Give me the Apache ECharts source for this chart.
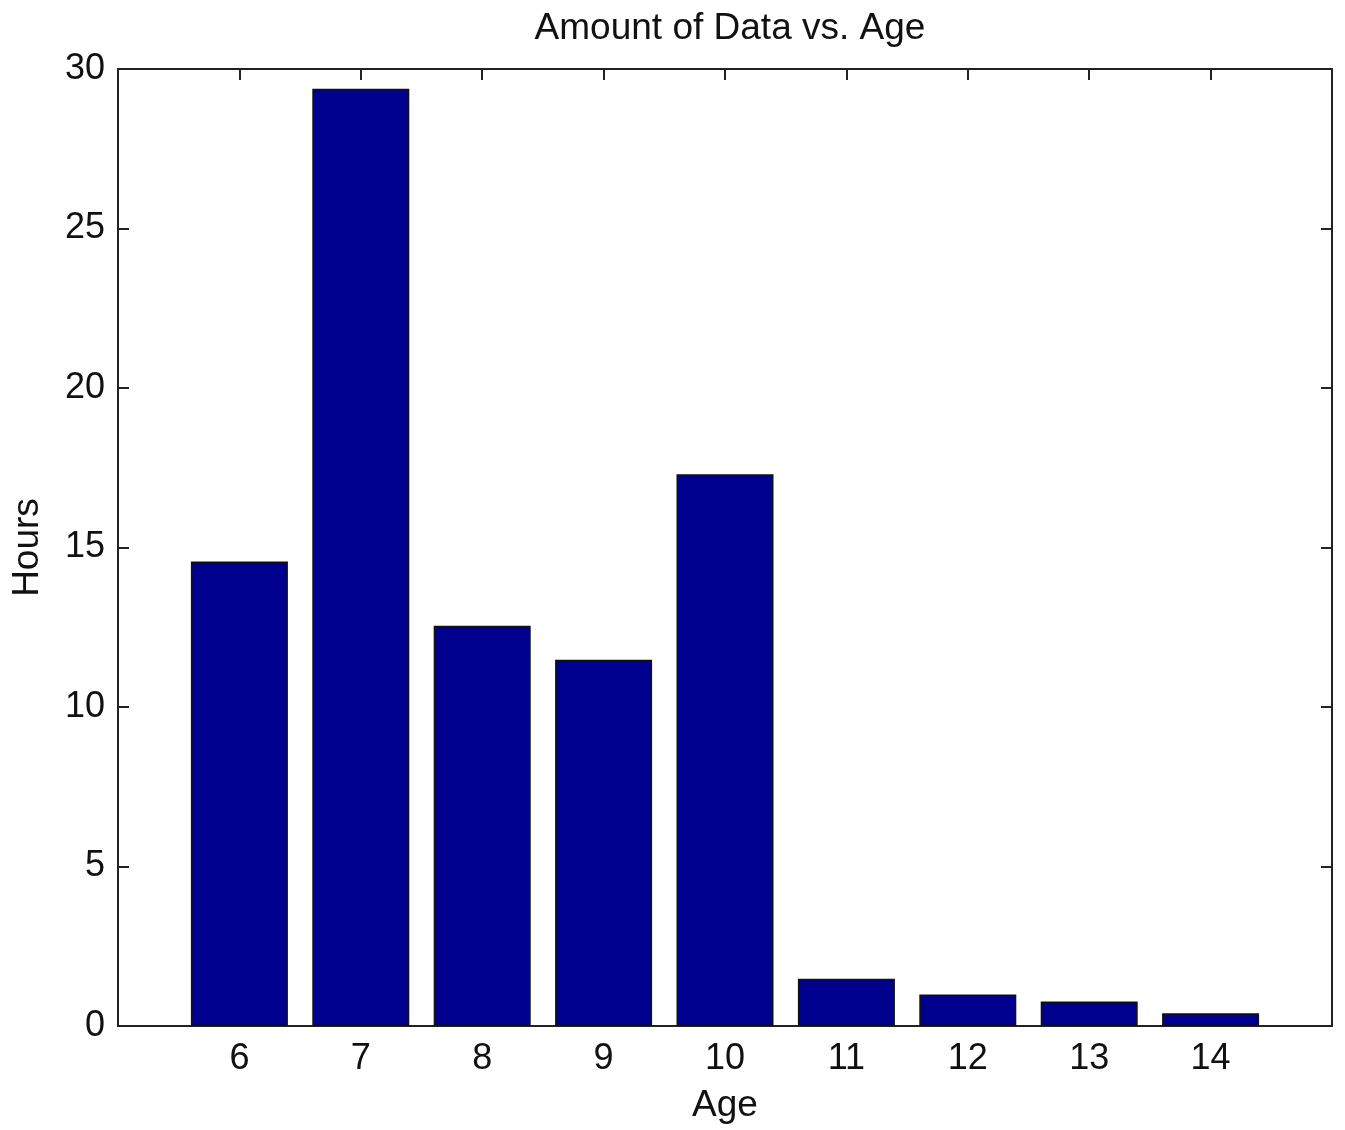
<!DOCTYPE html>
<html>
<head>
<meta charset="utf-8">
<script src="https://cdn.jsdelivr.net/npm/echarts@6/dist/echarts.min.js"></script>
<style>
html,body{margin:0;padding:0;background:#fff;}
#chart{width:1345px;height:1130px;}
</style>
</head>
<body>
<div id="chart"></div>
<script>
var ages = [6, 7, 8, 9, 10, 11, 12, 13, 14];
var hours = [14.56, 29.38, 12.55, 11.48, 17.3, 1.48, 0.99, 0.77, 0.40];
var yTicks = [0, 5, 10, 15, 20, 25, 30];

var font = 'Liberation Sans, Arial, Helvetica, sans-serif';
var axisColor = '#222';
var chart = echarts.init(document.getElementById('chart'));
var data = ages.map(function (a, i) { return [a, hours[i]]; });

function lineCfg() { return { show: true, onZero: false, lineStyle: { color: axisColor, width: 2 } }; }
function tickCfg() { return { show: true, inside: true, length: 11, lineStyle: { color: axisColor, width: 2 } }; }

chart.setOption({
  animation: false,
  backgroundColor: '#fff',
  title: {
    text: 'Amount of Data vs. Age',
    left: 725, textAlign: 'center', top: 5,
    textStyle: { fontFamily: font, fontSize: 37, fontWeight: 'normal', color: '#111' }
  },
  grid: { left: 118, right: 13, top: 69, bottom: 104, containLabel: false },
  xAxis: [{
    type: 'value', min: 5, max: 15, interval: 1, position: 'bottom',
    name: 'Age', nameLocation: 'middle', nameGap: 61,
    nameTextStyle: { fontFamily: font, fontSize: 37, color: '#111' },
    axisLine: lineCfg(),
    axisTick: tickCfg(),
    axisLabel: {
      fontFamily: font, fontSize: 36, color: '#111', margin: 15,
      formatter: function (v) { return ages.indexOf(v) >= 0 ? String(v) : ''; }
    },
    splitLine: { show: false }
  }, {
    type: 'value', min: 5, max: 15, interval: 1, position: 'top',
    axisLine: lineCfg(),
    axisTick: tickCfg(),
    axisLabel: { show: false }, splitLine: { show: false }
  }],
  yAxis: [{
    type: 'value', min: 0, max: 30, interval: 5, position: 'left',
    name: 'Hours', nameLocation: 'middle', nameGap: 72, nameRotate: 90,
    nameTextStyle: { fontFamily: font, fontSize: 37, color: '#111' },
    axisLine: lineCfg(),
    axisTick: tickCfg(),
    axisLabel: {
      fontFamily: font, fontSize: 36, color: '#111', margin: 13,
      formatter: function (v) { return yTicks.indexOf(v) >= 0 ? String(v) : ''; }
    },
    splitLine: { show: false }
  }, {
    type: 'value', min: 0, max: 30, interval: 5, position: 'right',
    axisLine: lineCfg(),
    axisTick: tickCfg(),
    axisLabel: { show: false }, splitLine: { show: false }
  }],
  series: [{
    type: 'bar',
    xAxisIndex: 0, yAxisIndex: 0,
    data: data,
    barWidth: 97,
    itemStyle: { color: '#00008F', borderColor: '#111', borderWidth: 1.5 }
  }]
});
</script>
</body>
</html>
